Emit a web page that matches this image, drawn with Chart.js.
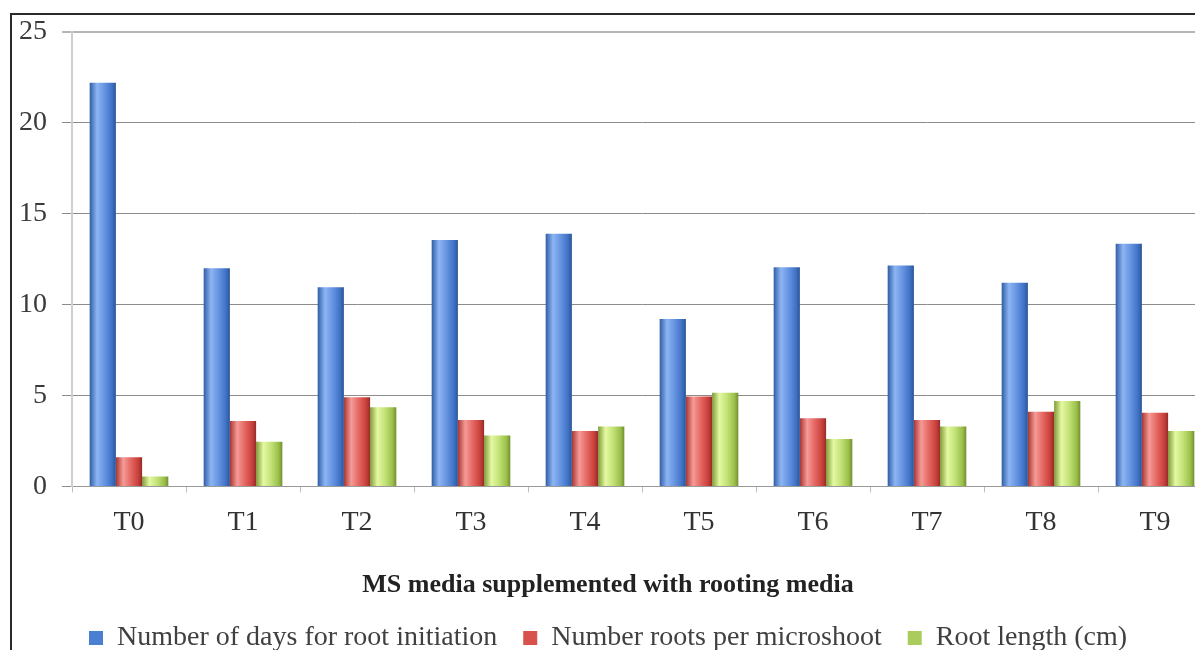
<!DOCTYPE html>
<html>
<head>
<meta charset="utf-8">
<script src="https://cdn.jsdelivr.net/npm/chart.js@4.4.1/dist/chart.umd.min.js"></script>
<style>
  html, body { margin: 0; padding: 0; overflow: hidden; background: #fff; }
  #wrap { position: relative; width: 1195px; height: 650px; overflow: hidden; }
  #frame { position: absolute; left: 10px; top: 13px; width: 2000px; height: 2000px;
           border-left: 2px solid #2a2a2a; border-top: 2px solid #2a2a2a; pointer-events: none; }
  canvas { position: absolute; left: 0; top: 0; }
</style>
</head>
<body>
<div id="wrap">
  <canvas id="roots-chart" width="1212" height="663"></canvas>
  <div id="frame"></div>
</div>
<script>
const ctx = document.getElementById('roots-chart');

// treatments
var labels = ['T0', 'T1', 'T2', 'T3', 'T4', 'T5', 'T6', 'T7', 'T8', 'T9'];

var daysToRoot    = [22.2, 12.0, 10.95, 13.55, 13.9, 9.2, 12.05, 12.15, 11.2, 13.35];
var rootsPerShoot = [1.6, 3.6, 4.9, 3.65, 3.05, 4.95, 3.75, 3.65, 4.1, 4.05];
var rootLength    = [0.55, 2.45, 4.35, 2.8, 3.3, 5.15, 2.6, 3.3, 4.7, 3.05];

var yTicks = [0, 5, 10, 15, 20, 25];

var baseColors = ['#4a7fd2', '#d9514d', '#a9cc5c'];

// horizontal shading for the "3d" look of the bars
var stops = [
  [[0, '#2f5ea6'], [0.28, '#8db5f3'], [0.55, '#6896e2'], [0.85, '#3f72c6'], [1, '#2c5495']],
  [[0, '#a83532'], [0.28, '#f59b97'], [0.55, '#e66a65'], [0.85, '#c9403b'], [1, '#952b28']],
  [[0, '#7f9c36'], [0.28, '#e4f8a2'], [0.55, '#c5e47a'], [0.85, '#9bc04a'], [1, '#748f33']]
];

const shade = {
  id: 'shade',
  beforeDatasetsDraw(chart) {
    chart.data.datasets.forEach((ds, i) => {
      const meta = chart.getDatasetMeta(i);
      meta.data.forEach(bar => {
        const g = chart.ctx.createLinearGradient(bar.x - bar.width / 2, 0, bar.x + bar.width / 2, 0);
        stops[i].forEach(s => g.addColorStop(s[0], s[1]));
        // bars share one options object, so give each its own copy
        bar.options = Object.assign({}, bar.options, { backgroundColor: g });
      });
    });
  }
};

const data = {
  labels: labels,
  datasets: [
    { label: 'Number of days for root initiation', data: daysToRoot, backgroundColor: baseColors[0] },
    { label: 'Number roots per microshoot', data: rootsPerShoot, backgroundColor: baseColors[1] },
    { label: 'Root length (cm)', data: rootLength, backgroundColor: baseColors[2] }
  ]
};

const serif = '"Liberation Serif", "DejaVu Serif", serif';

const config = {
  type: 'bar',
  data: data,
  plugins: [shade],
  options: {
    responsive: false,
    animation: false,
    devicePixelRatio: 1,
    datasets: {
      bar: { categoryPercentage: 0.69, barPercentage: 1.0, borderWidth: 0 }
    },
    layout: { padding: { top: 25, left: 4, right: 0, bottom: 1 } },
    scales: {
      x: {
        grid: { drawOnChartArea: false, drawTicks: true, tickLength: 6, color: '#bdbdbd' },
        border: { color: '#9a9a9a', width: 1 },
        ticks: {
          padding: 13,
          color: '#333',
          font: { family: serif, size: 28 }
        }
      },
      y: {
        min: 0,
        max: 25,
        afterBuildTicks: (axis) => { axis.ticks = yTicks.map(v => ({ value: v })); },
        grid: {
          color: (c) => c.tick && c.tick.value === 25 ? '#b5b5b5' : '#8c8c8c',
          lineWidth: (c) => c.tick && c.tick.value === 25 ? 2 : 1,
          tickLength: 10
        },
        border: { color: '#cfcfcf', width: 2 },
        ticks: {
          padding: 15,
          color: '#3a3a3a',
          font: { family: serif, size: 28 }
        }
      }
    },
    plugins: {
      title: {
        display: true,
        position: 'bottom',
        weight: 500,
        text: 'MS media supplemented with rooting media',
        color: '#222',
        font: { family: serif, size: 26, weight: 'bold', lineHeight: 1 },
        padding: { top: 20, bottom: 0 }
      },
      legend: {
        position: 'bottom',
        weight: 1000,
        labels: {
          boxWidth: 14,
          boxHeight: 14,
          padding: 26,
          color: '#404040',
          font: { family: serif, size: 28 }
        }
      },
      tooltip: { enabled: false }
    }
  }
};

new Chart(ctx, config);
</script>
</body>
</html>
